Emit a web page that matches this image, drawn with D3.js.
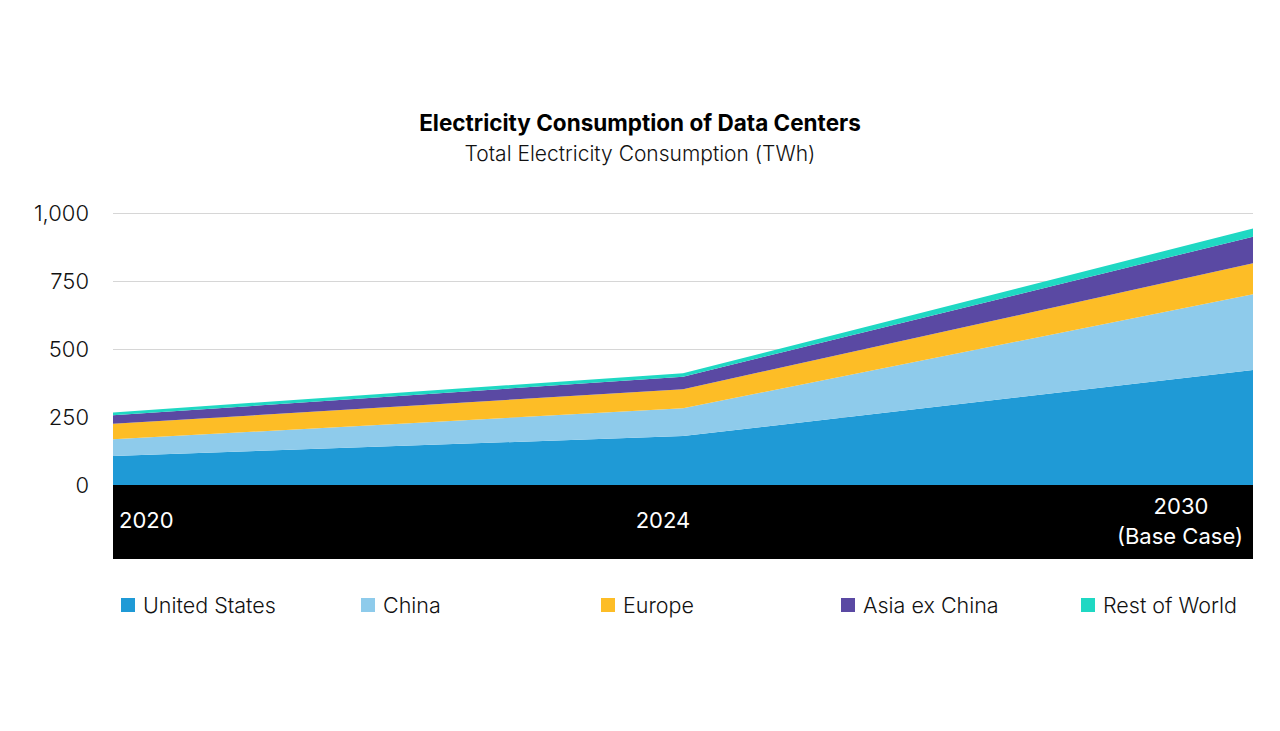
<!DOCTYPE html>
<html>
<head>
<meta charset="utf-8">
<script src="https://cdn.jsdelivr.net/npm/d3@7"></script>
<style>
  body { margin: 0; background: #fff; }
  svg { display: block; font-family: Inter, Roboto, "Noto Sans", sans-serif; }
</style>
</head>
<body>
<svg id="chart" width="1280" height="731"></svg>
<script>
// data (TWh)
var years = ["2020", "2024", "2030"];
var regions = ["United States", "China", "Europe", "Asia ex China", "Rest of World"];
var unitedStates = [107, 180, 423];
var china = [61, 102, 278];
var europe = [57, 70, 114];
var asiaExChina = [31, 46, 98];
var restOfWorld = [11, 13, 30];
var yTicks = [0, 250, 500, 750, 1000];
var colors = ["#1f9ad6", "#8ecbeb", "#fdbd26", "#5a49a3", "#1fd8c3"];

var series = [unitedStates, china, europe, asiaExChina, restOfWorld];
var rows = years.map(function (y, i) {
    var r = { year: y };
    regions.forEach(function (k, j) { r[k] = series[j][i]; });
    return r;
});

var svg = d3.select("#chart");
var plotL = 113, plotR = 1253, plotT = 213, plotB = 485;

var x = d3.scalePoint().domain(years).range([plotL, plotR]);
var y = d3.scaleLinear().domain([0, 1000]).range([plotB, plotT]);

// title
svg.append("text")
    .attr("x", 640).attr("y", 131)
    .attr("text-anchor", "middle")
    .style("font-size", "22.5px").style("font-weight", "700")
    .attr("fill", "#000")
    .text("Electricity Consumption of Data Centers");
svg.append("text")
    .attr("x", 640).attr("y", 161)
    .attr("text-anchor", "middle")
    .style("font-size", "21px").style("font-weight", "300")
    .attr("fill", "#111")
    .text("Total Electricity Consumption (TWh)");

// grid + y labels
var yAxis = svg.append("g").attr("transform", "translate(" + plotL + ",0)")
    .call(d3.axisLeft(y).tickValues(yTicks).tickSize(-(plotR - plotL)).tickPadding(24)
        .tickFormat(d3.format(",")));
yAxis.select(".domain").remove();
yAxis.selectAll(".tick line").attr("stroke", "#d6d6d6").attr("stroke-width", 1.2);
yAxis.selectAll(".tick text")
    .attr("fill", "#111")
    .style("font-size", "22px").style("font-weight", "300")
    .style("font-family", "Inter, Roboto, sans-serif");

// stacked areas
var stack = d3.stack().keys(regions);
var area = d3.area()
    .x(function (d) { return x(d.data.year); })
    .y0(function (d) { return y(d[0]); })
    .y1(function (d) { return y(d[1]); });

svg.append("g").selectAll("path")
    .data(stack(rows))
    .join("path")
    .attr("fill", function (d, i) { return colors[i]; })
    .attr("d", area);

// black x band
svg.append("rect")
    .attr("x", plotL).attr("y", plotB)
    .attr("width", plotR - plotL).attr("height", 74)
    .attr("fill", "#000");

var xl = svg.append("g").attr("fill", "#fff")
    .style("font-size", "22px").style("font-weight", "400");
xl.append("text").attr("x", x("2020") + 6).attr("y", 528)
    .attr("text-anchor", "start").text("2020");
xl.append("text").attr("x", x("2024") - 20).attr("y", 528)
    .attr("text-anchor", "middle").text("2024");
xl.append("text").attr("x", plotR - 72).attr("y", 514)
    .attr("text-anchor", "middle").text("2030");
xl.append("text").attr("x", plotR - 10).attr("y", 544)
    .attr("text-anchor", "end").text("(Base Case)");

// legend
var lg = svg.append("g").selectAll("g")
    .data(regions)
    .join("g")
    .attr("transform", function (d, i) { return "translate(" + (121 + i * 240) + ",598)"; });
lg.append("rect").attr("width", 14).attr("height", 14)
    .attr("fill", function (d, i) { return colors[i]; });
lg.append("text").attr("x", 22).attr("y", 15)
    .attr("fill", "#111")
    .style("font-size", "21.5px").style("font-weight", "300")
    .text(function (d) { return d; });
</script>
</body>
</html>
